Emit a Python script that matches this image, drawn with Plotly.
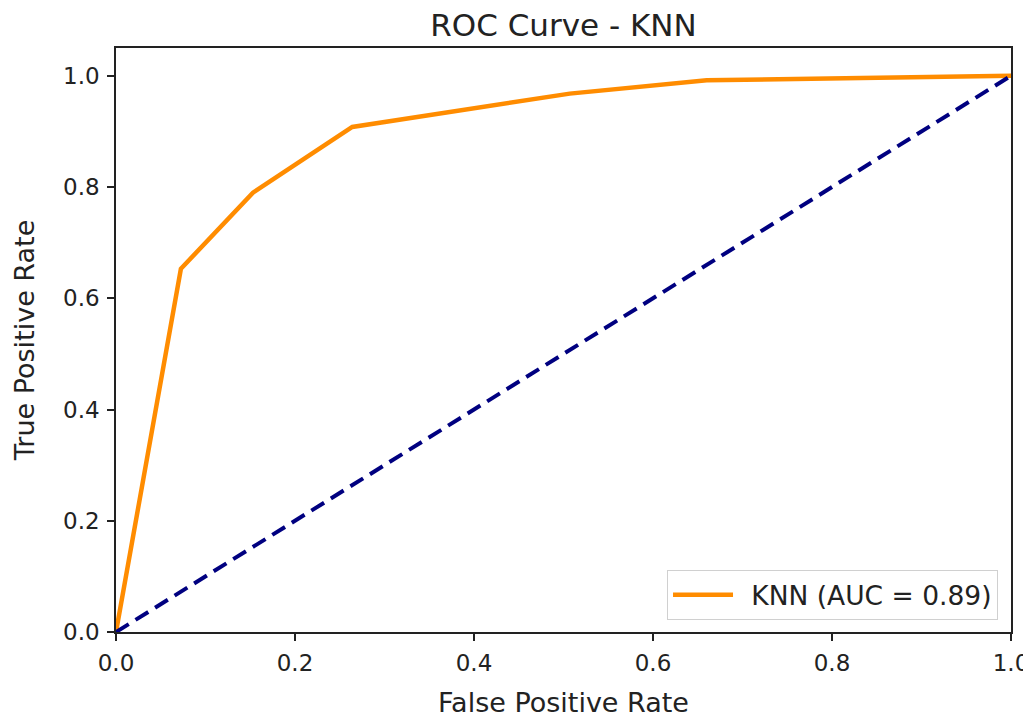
import plotly.graph_objects as go

fpr = [0.0, 0.0725, 0.153, 0.264, 0.507, 0.66, 1.0]
tpr = [0.0, 0.653, 0.79, 0.908, 0.968, 0.992, 1.0]
diag_x = [0.0, 1.0]
diag_y = [0.0, 1.0]
auc_label = "KNN (AUC = 0.89)"
tick_vals = [0.0, 0.2, 0.4, 0.6, 0.8, 1.0]
tick_text = ["0.0", "0.2", "0.4", "0.6", "0.8", "1.0"]

FONT = "DejaVu Sans"
W, H = 1023, 710  # page body has an 8px margin

fig = go.Figure()
fig.add_trace(go.Scatter(x=fpr, y=tpr, mode="lines", name="\u2002" + auc_label,
                         line=dict(color="darkorange", width=4.5)))
fig.add_trace(go.Scatter(x=diag_x, y=diag_y, mode="lines", showlegend=False,
                         line=dict(color="navy", width=4, dash="15px,8px")))

axis_common = dict(
    showgrid=False, zeroline=False, showline=True, linecolor="#222", linewidth=1.5,
    mirror=True, ticks="outside", ticklen=7, tickwidth=1.5, tickcolor="#222",
    tickvals=tick_vals, ticktext=tick_text, automargin=False, ticklabelstandoff=3,
    tickfont=dict(family=FONT, size=23, color="#222"),
)

fig.update_layout(
    width=W, height=H,
    margin=dict(l=108, r=20, t=40, b=86),
    paper_bgcolor="white", plot_bgcolor="white",
    title=dict(text="ROC Curve - KNN", x=0.5, xref="paper", xanchor="center",
               y=1 - 17 / H, yref="container", yanchor="middle",
               font=dict(family=FONT, size=31, color="#222")),
    xaxis=dict(range=[0, 1.0], title=dict(text="False Positive Rate", standoff=19,
               font=dict(family=FONT, size=27, color="#222")), **axis_common),
    yaxis=dict(range=[0, 1.05], title=dict(text="True Positive Rate", standoff=21,
               font=dict(family=FONT, size=27, color="#222")), **axis_common),
    legend=dict(x=0.9855, y=0.0205, xanchor="right", yanchor="bottom",
                bordercolor="#d0d0d0", borderwidth=1, bgcolor="rgba(255,255,255,0.8)",
                itemwidth=60,
                font=dict(family=FONT, size=26.5, color="#222")),
    showlegend=True,
)

fig.write_html("out.html")
